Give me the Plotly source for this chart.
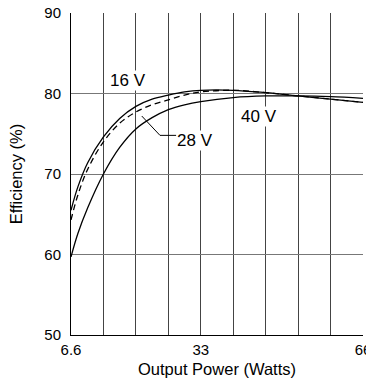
import plotly.graph_objects as go

# Output power (W) sample points along each curve
power = [6.6, 8.0, 10.0, 13.2, 16.5, 19.8, 23.1, 26.4, 29.7, 33.0, 39.6, 46.2, 52.8, 59.4, 66.0]

# Efficiency (%) per supply voltage
eff_16v = [65.5, 68.4, 71.4, 74.6, 76.9, 78.4, 79.3, 79.8, 80.2, 80.4, 80.4, 80.1, 79.7, 79.3, 78.9]
eff_28v = [64.3, 67.4, 70.6, 74.0, 76.3, 77.7, 78.6, 79.2, 79.8, 80.2, 80.4, 80.1, 79.7, 79.3, 78.9]
eff_40v = [59.7, 62.6, 65.8, 70.0, 73.3, 75.6, 77.0, 78.0, 78.6, 79.0, 79.5, 79.7, 79.7, 79.6, 79.4]

# Axis ticks
x_grid = [6.6, 13.2, 19.8, 26.4, 33.0, 39.6, 46.2, 52.8, 59.4, 66.0]
x_labels = ['6.6', '', '', '', '33', '', '', '', '', '66']
y_ticks = [50, 60, 70, 80, 90]

# Leader line for the 28 V label
leader_x = [21.0, 24.7, 28.0]
leader_y = [77.2, 74.8, 74.8]

FONT = 'Liberation Sans, Arial, sans-serif'

fig = go.Figure()

fig.add_trace(go.Scatter(
    x=power, y=eff_16v, mode='lines', name='16 V',
    line=dict(color='black', width=1.3, shape='spline'),
))
fig.add_trace(go.Scatter(
    x=power, y=eff_28v, mode='lines', name='28 V',
    line=dict(color='black', width=1.3, dash='6px,4px', shape='spline'),
))
fig.add_trace(go.Scatter(
    x=power, y=eff_40v, mode='lines', name='40 V',
    line=dict(color='black', width=1.3, shape='spline'),
))
fig.add_trace(go.Scatter(
    x=leader_x, y=leader_y, mode='lines', hoverinfo='skip',
    line=dict(color='black', width=1),
))

# Curve labels
for text, x, y in [('16 V', 18.2, 81.6), ('40 V', 44.8, 77.2), ('28 V', 31.8, 74.2)]:
    fig.add_annotation(
        x=x, y=y, text=text, showarrow=False,
        bgcolor='white', borderpad=0,
        font=dict(family=FONT, size=17, color='black'),
    )

fig.update_layout(
    width=366,
    height=381,
    template='plotly_white',
    showlegend=False,
    paper_bgcolor='white',
    plot_bgcolor='white',
    font=dict(family=FONT, size=15, color='black'),
    margin=dict(t=13, b=46, l=71, r=3),
    xaxis=dict(
        range=[6.6, 66],
        tickmode='array',
        tickvals=x_grid,
        ticktext=x_labels,
        automargin=False,
        ticklabeloverflow='allow',
        showgrid=True,
        gridcolor='#444',
        gridwidth=1,
        showline=True,
        linecolor='black',
        linewidth=1,
        zeroline=False,
        ticks='',
        ticklabelstandoff=1,
        title=dict(text='Output Power (Watts)', font=dict(size=16.5), standoff=6),
    ),
    yaxis=dict(
        range=[50, 90],
        tickmode='array',
        tickvals=y_ticks,
        automargin=False,
        showgrid=True,
        gridcolor='#777',
        gridwidth=1,
        showline=True,
        linecolor='black',
        linewidth=1,
        zeroline=False,
        ticks='',
        ticklabelstandoff=6,
        title=dict(text='Efficiency (%)', font=dict(size=16.5), standoff=17),
    ),
)

# drop the default page margin so the figure sits at the window's corner
fig.write_html(
    'out.html',
    config={'displayModeBar': False},
    post_script="document.body.style.margin='0px';",
)
